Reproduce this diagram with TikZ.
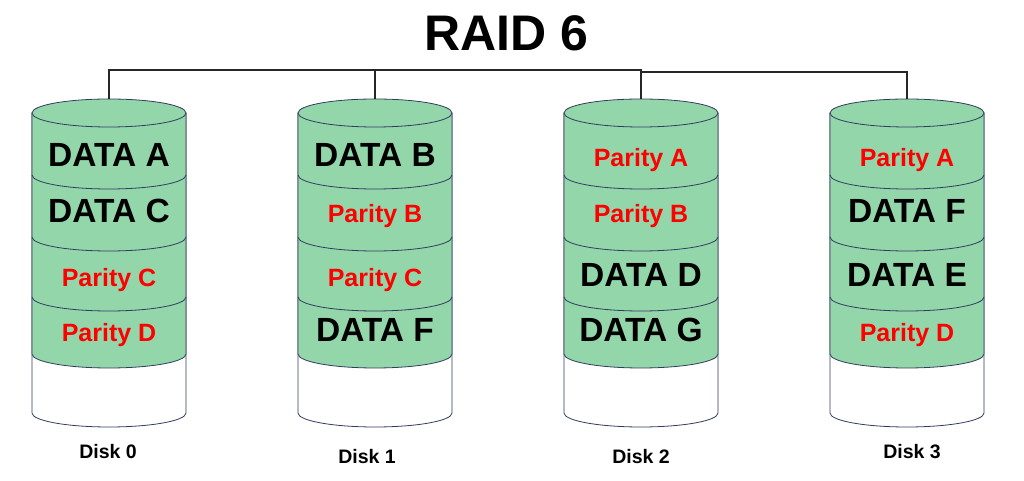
\documentclass[tikz,border=0pt]{standalone}
\usepackage{fontspec}
\setmainfont{Liberation Sans}
\usetikzlibrary{positioning,calc}
\definecolor{diskgreen}{RGB}{146,214,170}
\definecolor{diskline}{RGB}{50,60,95}
\tikzset{%
  disk body/.style={
    draw=diskline,
    line width=0.8pt
  },
  block data/.style={
    anchor=base,
    text=black,
    font=\fontsize{33.5}{40}\selectfont\bfseries
  },
  block parity/.style={
    anchor=base,
    text=red,
    font=\fontsize{25}{30}\selectfont\bfseries
  },
  disk label/.style={
    anchor=base,
    font=\fontsize{19.5}{23}\selectfont\bfseries
  },
  bus/.style={
    draw=black!85,
    line width=1.2pt
  },
}

\begin{document}
\begin{tikzpicture}[x=1pt, y=1pt]
        \useasboundingbox (0,0) rectangle (1024,481);
        \node [anchor=base, font=\fontsize{50}{60}\selectfont\bfseries] (title) at (506,430) {RAID 6};

        % the four cylinders
        \foreach \x [count=\d from 0] in {109,375,641,907} {
            \draw [disk body, fill=white] (\x-77,368) -- (\x-77,68)
                arc [start angle=180, end angle=360, x radius=77, y radius=14] -- (\x+77,368);
            \draw [disk body, fill=diskgreen] (\x-77,368) -- (\x-77,127)
                arc [start angle=180, end angle=360, x radius=77, y radius=14] -- (\x+77,368) -- cycle;
            \draw [disk body, fill=diskgreen] (\x,368) ellipse [x radius=77, y radius=14];
            \foreach \y in {306,244,184}
                \draw [disk body] (\x-77,\y) arc [start angle=180, end angle=360, x radius=77, y radius=14];
            \coordinate (disk\d-top) at (\x,382);
            \foreach \y [count=\i] in {314,258,194,139}
                \coordinate (disk\d-band\i) at (\x,\y);
        }

        \foreach \s/\t [count=\i] in {data/DATA A,data/DATA C,parity/Parity C,parity/Parity D}
            \node [block \s] (disk0-label\i) at (disk0-band\i) {\t};
        \foreach \s/\t [count=\i] in {data/DATA B,parity/Parity B,parity/Parity C,data/DATA F}
            \node [block \s] (disk1-label\i) at (disk1-band\i) {\t};
        \foreach \s/\t [count=\i] in {parity/Parity A,parity/Parity B,data/DATA D,data/DATA G}
            \node [block \s] (disk2-label\i) at (disk2-band\i) {\t};
        \foreach \s/\t [count=\i] in {parity/Parity A,data/DATA F,data/DATA E,parity/Parity D}
            \node [block \s] (disk3-label\i) at (disk3-band\i) {\t};

        \foreach \x/\y [count=\d from 0] in {108/22,367/17,641/17,912/22}
            \node [disk label] (disk\d) at (\x,\y) {Disk \d};

        % connectors
        \draw [bus] (disk0-top) -- ++(0,29) -| (disk2-top);
        \draw [bus] (disk1-top) -- ++(0,29);
        \draw [bus] (disk2-top) ++(0,27) -| (disk3-top);
\end{tikzpicture}
\end{document}
